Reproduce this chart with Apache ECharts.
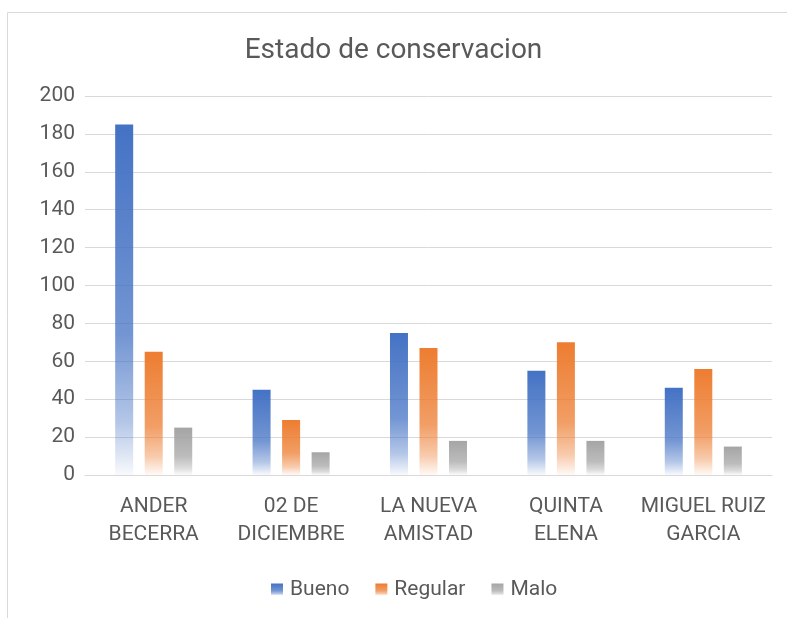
<!DOCTYPE html>
<html><head><meta charset="utf-8">
<script src="https://cdn.jsdelivr.net/npm/echarts@6/dist/echarts.min.js"></script>
<style>html,body{margin:0;padding:0;background:#fff}#c{width:787px;height:618px}</style>
</head><body><div id="c"></div>
<script>
const categories = ['ANDER\nBECERRA', '02 DE\nDICIEMBRE', 'LA NUEVA\nAMISTAD', 'QUINTA\nELENA', 'MIGUEL RUIZ\nGARCIA'];
const bueno = [185, 45, 75, 55, 46];
const regular = [65, 29, 67, 70, 56];
const malo = [25, 12, 18, 18, 15];
const seriesNames = ['Bueno', 'Regular', 'Malo'];
const colors = [[68,114,196],[237,125,49],[165,165,165]];

function grad(c){
  const rgba = a => `rgba(${c[0]},${c[1]},${c[2]},${a})`;
  return new echarts.graphic.LinearGradient(0,0,0,1,[
    {offset:0,color:rgba(1)},
    {offset:0.6,color:rgba(0.75)},
    {offset:0.85,color:rgba(0.4)},
    {offset:1,color:rgba(0.04)}
  ]);
}
const font = 'Roboto, "Liberation Sans", sans-serif';
const chart = echarts.init(document.getElementById('c'));
const data = [bueno, regular, malo];
chart.setOption({
  animation:false,
  backgroundColor:'#fff',
  graphic:[{type:'rect',shape:{x:7.5,y:12.5,width:800,height:620},style:{fill:'none',stroke:'#d9d9d9',lineWidth:1}}],
  title:{text:'Estado de conservacion',left:'center',top:32,textStyle:{fontFamily:font,fontSize:28,fontWeight:'normal',color:'#595959'}},
  legend:{bottom:13,left:266,itemWidth:12,itemHeight:12,itemGap:26,icon:'rect',
    textStyle:{fontFamily:font,fontSize:21,color:'#595959',padding:[0,0,0,2]},data:seriesNames},
  grid:{left:85,right:15,top:96,bottom:143},
  xAxis:{type:'category',data:categories,
    axisLine:{lineStyle:{color:'#d9d9d9',width:1}},axisTick:{show:false},
    axisLabel:{interval:0,fontFamily:font,fontSize:21,color:'#595959',lineHeight:28,margin:18}},
  yAxis:{type:'value',min:0,max:200,interval:20,
    axisLine:{show:false},axisTick:{show:false},
    splitLine:{lineStyle:{color:'#d9d9d9',width:1}},
    axisLabel:{fontFamily:font,fontSize:21,color:'#595959',margin:10}},
  series:seriesNames.map((n,i)=>({name:n,type:'bar',data:data[i],barWidth:18,barGap:'64%',
    itemStyle:{color:grad(colors[i])}}))
});
</script></body></html>
